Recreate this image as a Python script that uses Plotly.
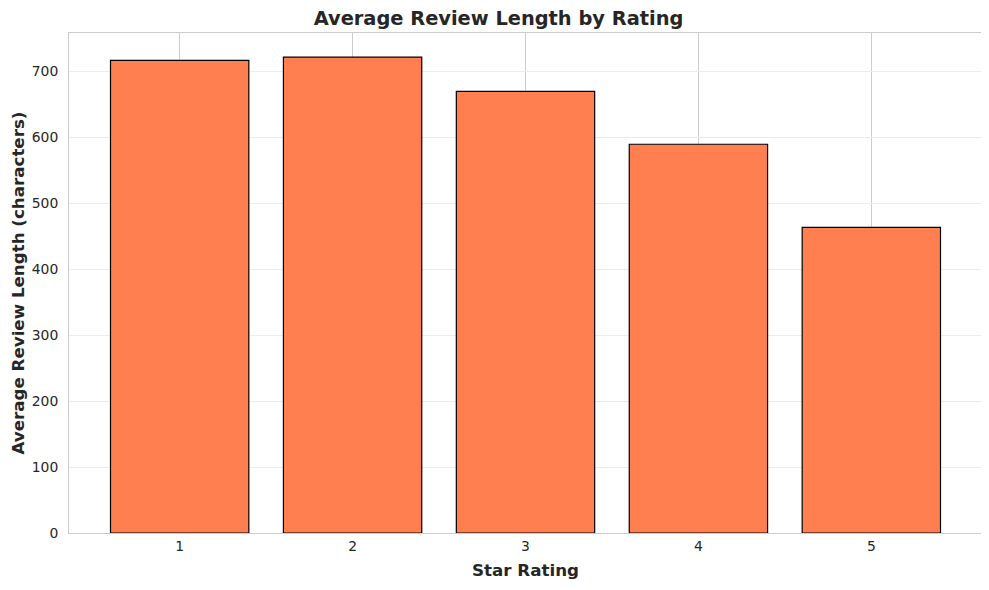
import plotly.graph_objects as go

ratings = [1, 2, 3, 4, 5]
avg_length = [716, 721, 669, 589, 463]
y_ticks = [0, 100, 200, 300, 400, 500, 600, 700]

fig = go.Figure()
fig.add_trace(go.Bar(
    x=ratings, y=avg_length, width=0.8,
    marker=dict(color="#FF7F50", line=dict(color="black", width=1.2)),
))

font = "DejaVu Sans"
fig.update_layout(
    width=981, height=582,
    margin=dict(l=61, r=7, t=25, b=57),
    plot_bgcolor="white", paper_bgcolor="white",
    font=dict(family=font, size=13.9, color="#262626"),
    title=dict(text="<b>Average Review Length by Rating</b>", x=0.5, xanchor="center",
               y=0.983, yanchor="middle", font=dict(size=19.4, color="#262626")),
    showlegend=False,
)
fig.update_xaxes(
    range=[0.36, 5.64], tickvals=ratings, ticktext=[str(r) for r in ratings],
    showgrid=True, gridcolor="#cccccc", gridwidth=1,
    showline=True, linecolor="#cccccc", mirror=True, zeroline=False,
    ticks="", ticklen=0,
    title=dict(text="<b>Star Rating</b>", font=dict(size=16.7), standoff=11),
)
fig.update_yaxes(
    range=[0, 757.6], tickvals=y_ticks,
    showgrid=True, gridcolor="#ececec", gridwidth=1,
    showline=True, linecolor="#cccccc", mirror=True, zeroline=False,
    ticks="outside", ticklen=7, tickcolor="rgba(0,0,0,0)",
    title=dict(text="<b>Average Review Length (characters)</b>", font=dict(size=16.7), standoff=5),
)

fig.write_html("out.html")
